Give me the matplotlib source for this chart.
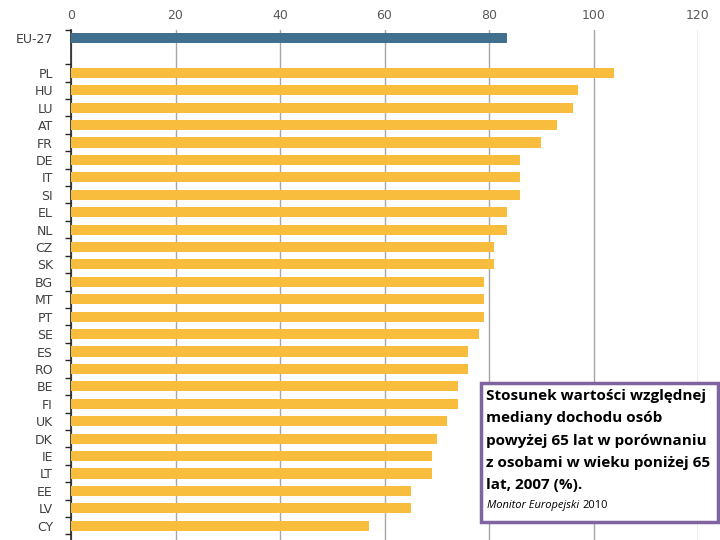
import numpy as np
import matplotlib.pyplot as plt

countries = ["EU-27", "PL", "HU", "LU", "AT", "FR", "DE", "IT", "SI", "EL", "NL",
             "CZ", "SK", "BG", "MT", "PT", "SE", "ES", "RO", "BE", "FI", "UK",
             "DK", "IE", "LT", "EE", "LV", "CY"]
values = [83.5, 104, 97, 96, 93, 90, 86, 86, 86, 83.5, 83.5,
          81, 81, 79, 79, 79, 78, 76, 76, 74, 74, 72,
          70, 69, 69, 65, 65, 57]
xticks = [0, 20, 40, 60, 80, 100, 120]

# EU-27 sits apart from the countries
pos = np.array([0] + [2.0 + i for i in range(len(countries) - 1)])
colors = ["#41708e"] + ["#f9bd3d"] * (len(countries) - 1)

fig = plt.figure(figsize=(7.2, 5.4), dpi=100)
ax = fig.add_axes([71 / 720, 0, (698 - 71) / 720, (540 - 30) / 540])

ax.barh(pos, values, height=0.58, color=colors, zorder=3)
ax.set_xlim(0, 120)
ax.set_ylim(28.82, -0.46)

ax.set_xticks(xticks)
ax.xaxis.tick_top()
ax.tick_params(axis="x", length=0, pad=6, labelsize=9, labelcolor="#595959")
ax.grid(axis="x", color="#a6a6a6", linewidth=1, zorder=0)

ax.set_yticks(pos)
ax.set_yticklabels(countries)
ax.tick_params(axis="y", which="major", length=0, pad=13, labelsize=9, labelcolor="#404040")
minor = [-0.46] + list(pos[1:] - 0.5) + [pos[-1] + 0.5]
ax.set_yticks(minor, minor=True)
ax.tick_params(axis="y", which="minor", length=4, width=1, color="#262626")

for s in ["top", "right", "bottom"]:
    ax.spines[s].set_visible(False)
ax.spines["left"].set_color("#262626")
ax.spines["left"].set_linewidth(1.2)

# caption box
fig.patches.append(plt.Rectangle((481 / 720, 18 / 540), 237 / 720, 139 / 540,
                                 transform=fig.transFigure, facecolor="white",
                                 edgecolor="#7f64a0", linewidth=2.5, zorder=5))
fig.text(486 / 720, 1 - 389 / 540,
         "Stosunek wartości względnej\nmediany dochodu osób\npowyżej 65 lat w porównaniu\nz osobami w wieku poniżej 65\nlat, 2007 (%).",
         ha="left", va="top", fontsize=11, fontweight="bold", family="Open Sans",
         linespacing=1.76, zorder=6)
t = fig.text(487 / 720, 1 - 500 / 540, "Monitor Europejski", style="italic",
             fontsize=8, ha="left", va="top", family="Open Sans", zorder=6)
fig.canvas.draw()
bb = t.get_window_extent()
fig.text(bb.x1 / 720 + 0.004, 1 - 500 / 540, "2010", fontsize=8, ha="left", va="top",
         family="Open Sans", zorder=6)

fig.savefig("out.png", dpi=100)
